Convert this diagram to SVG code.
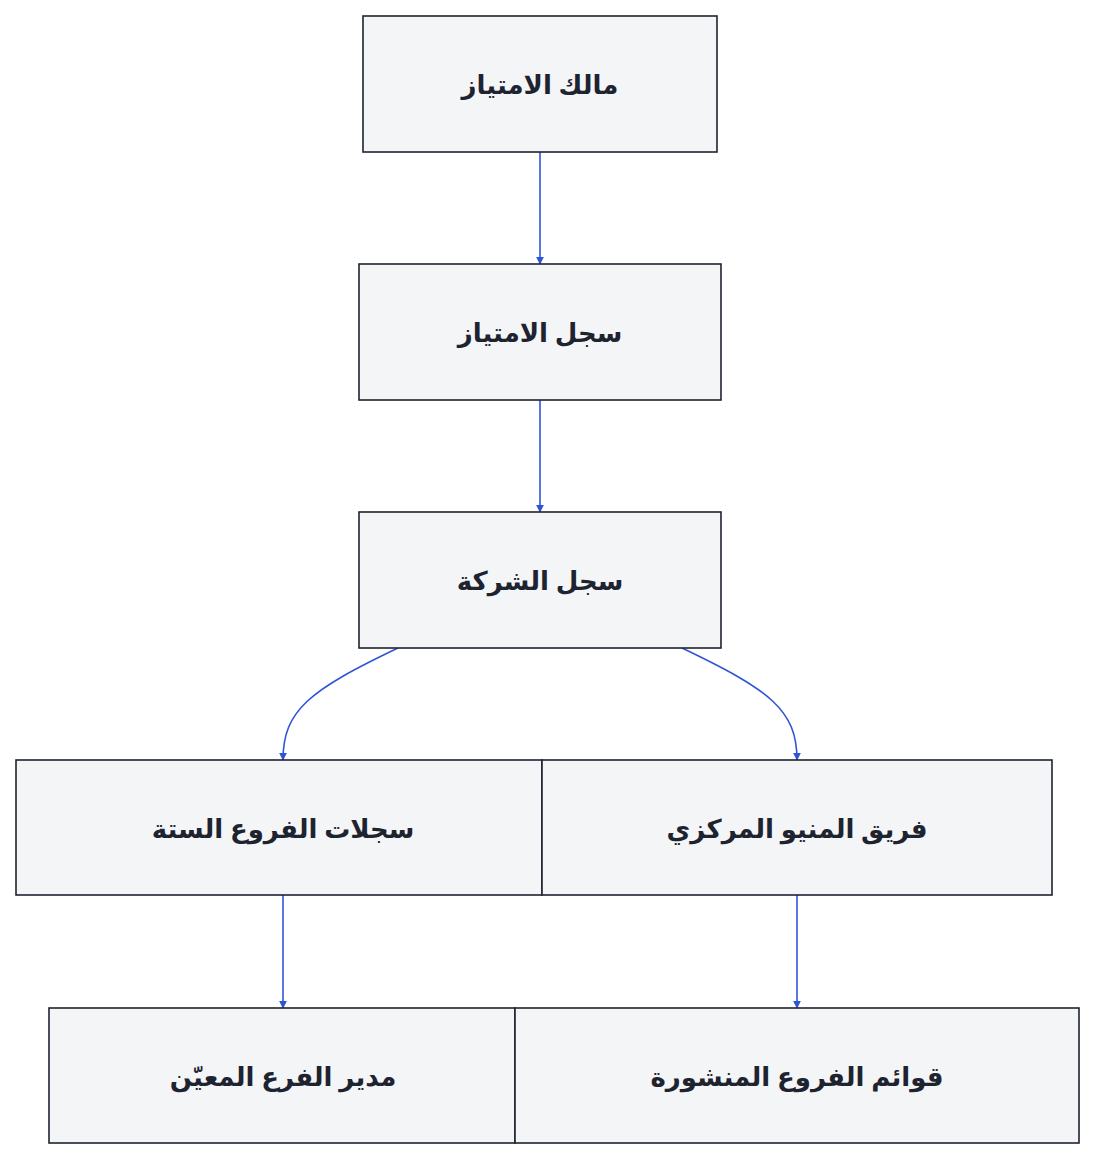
<svg xmlns="http://www.w3.org/2000/svg" width="1096" height="1160" viewBox="0 0 1096 1160">
<style>
.n rect{fill:#f4f5f7;stroke:#1e2330;stroke-width:1.6}
.n text{font-family:"Noto Sans","DejaVu Sans",sans-serif;font-weight:bold;font-size:26px;fill:#1e2330;text-anchor:middle;dominant-baseline:central}
.e path{fill:none;stroke:#2f55d4;stroke-width:1.6}
</style>
<defs><marker id="a" viewBox="0 0 10 10" refX="9" refY="5" markerWidth="8" markerHeight="8" markerUnits="userSpaceOnUse" orient="auto"><path d="M0,0L10,5L0,10z" fill="#2f55d4"/></marker></defs>
<rect width="1096" height="1160" fill="#fff"/>
<g class="e">
<path d="M540,152V264" marker-end="url(#a)"/>
<path d="M540,400V512" marker-end="url(#a)"/>
<path d="M398,648C310,690 283,710 283,760" marker-end="url(#a)"/>
<path d="M682,648C770,690 797,710 797,760" marker-end="url(#a)"/>
<path d="M283,895V1008" marker-end="url(#a)"/>
<path d="M797,895V1008" marker-end="url(#a)"/>
</g>
<g class="n" id="n1"><rect x="363" y="16" width="354" height="136"/><text x="540" y="84">مالك الامتياز</text></g>
<g class="n" id="n2"><rect x="359" y="264" width="362" height="136"/><text x="540" y="332">سجل الامتياز</text></g>
<g class="n" id="n3"><rect x="359" y="512" width="362" height="136"/><text x="540" y="580">سجل الشركة</text></g>
<g class="n" id="n4"><rect x="16" y="760" width="526" height="135"/><text x="283" y="828">سجلات الفروع الستة</text></g>
<g class="n" id="n5"><rect x="542" y="760" width="510" height="135"/><text x="797" y="828">فريق المنيو المركزي</text></g>
<g class="n" id="n6"><rect x="49" y="1008" width="466" height="135"/><text x="283" y="1076">مدير الفرع المعيّن</text></g>
<g class="n" id="n7"><rect x="515" y="1008" width="564" height="135"/><text x="797" y="1076">قوائم الفروع المنشورة</text></g>
</svg>
